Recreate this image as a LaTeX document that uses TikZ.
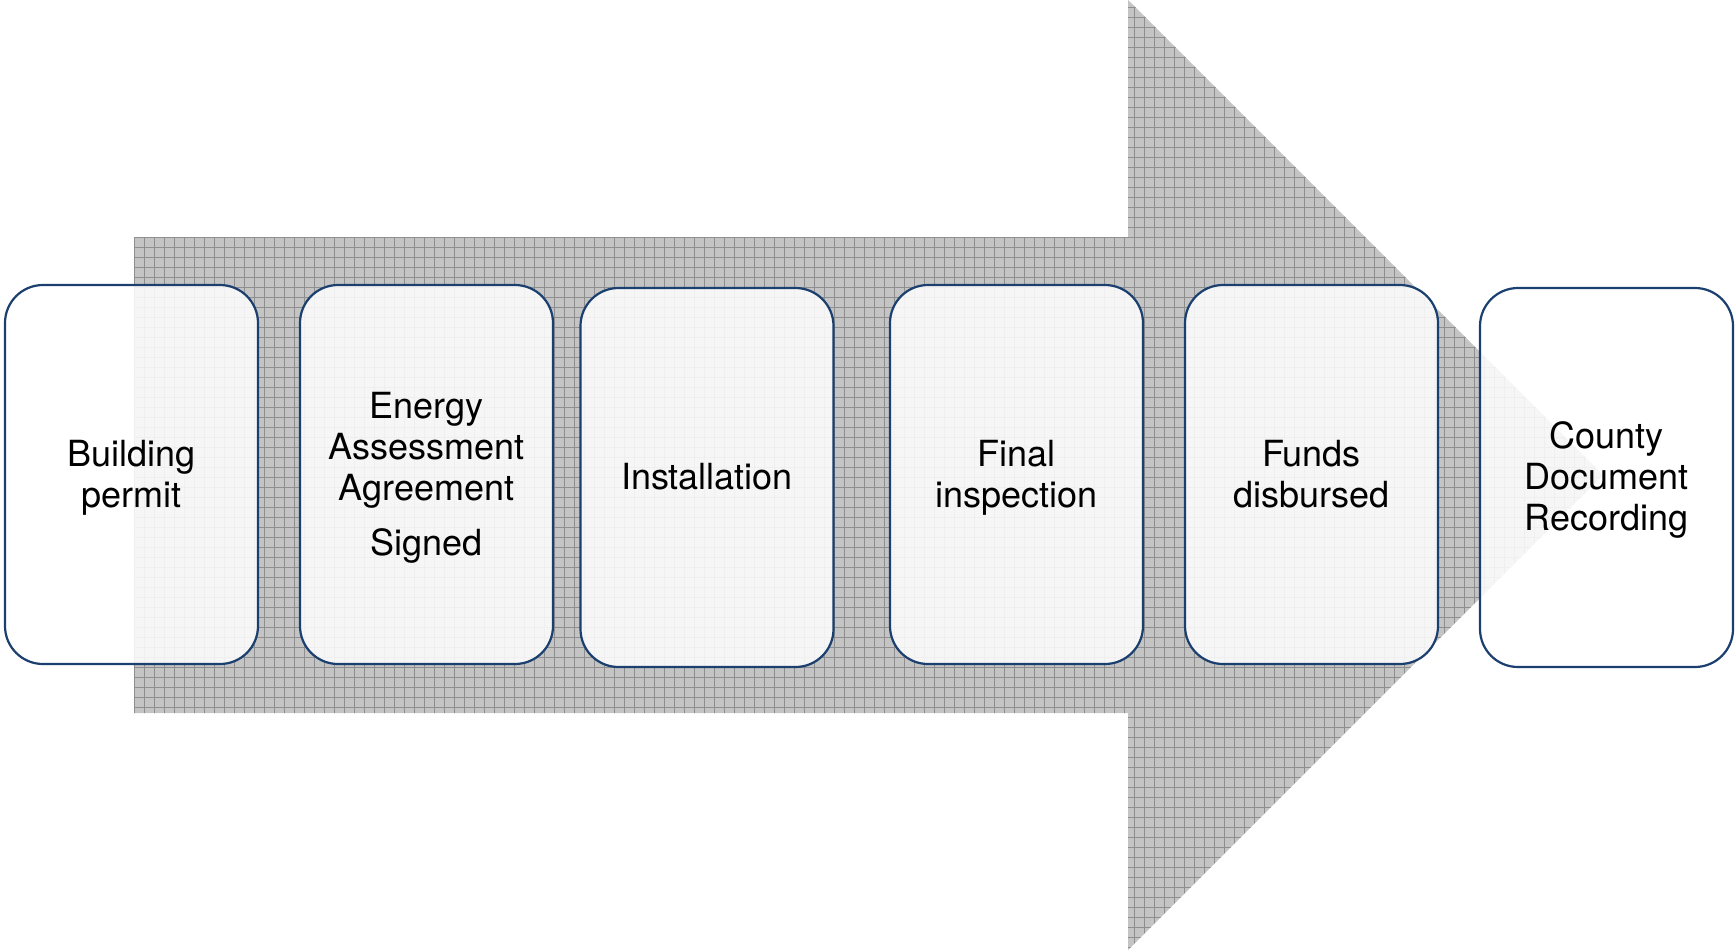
\documentclass[tikz,border=0pt]{standalone}
\usepackage{fontspec}
\setmainfont{TeX Gyre Heros}
\definecolor{arrowgray}{HTML}{C4C4C4}
\definecolor{gridgray}{HTML}{8E8E8E}
\definecolor{boxblue}{HTML}{1B3F6E}
\newcommand{\stagetext}[1]{\raisebox{-4pt}[\height][\depth]{\begin{tabular}{@{}c@{}}#1\end{tabular}}}
\begin{document}
\begin{tikzpicture}[x=1pt,y=-1pt,
  stage/.style={draw=boxblue,line width=2.2pt,rounded corners=38pt,fill=white,fill opacity=0.86,text opacity=1,
    minimum width=253pt,minimum height=379pt,align=center,inner sep=0pt,
    font=\fontsize{36}{41}\selectfont}]
\useasboundingbox (0,0) rectangle (1735,951);
\fill[arrowgray] (134,237) -- (1128,237) -- (1128,0) -- (1603,475) -- (1128,950) -- (1128,713) -- (134,713) -- cycle;
\begin{scope}
\clip (134,237) -- (1128,237) -- (1128,0) -- (1603,475) -- (1128,950) -- (1128,713) -- (134,713) -- cycle;
\foreach \x in {134,144,...,1604} {\draw[gridgray,line width=1pt] (\x,0) -- (\x,951);}
\foreach \y in {7,17,...,951} {\draw[gridgray,line width=1pt] (134,\y) -- (1605,\y);}
\end{scope}
\node[stage] (b1) at (131.5,474.5) {\stagetext{Building\\permit}};
\node[stage] (b2) at (426.5,474.5) {\stagetext{Energy\\Assessment\\Agreement\\[14pt]Signed}};
\node[stage] (b3) at (707,477.5) {\stagetext{Installation}};
\node[stage] (b4) at (1016.5,474.5) {\stagetext{Final\\inspection}};
\node[stage] (b5) at (1311.5,474.5) {\stagetext{Funds\\disbursed}};
\node[stage] (b6) at (1606.5,477.5) {\stagetext{County\\Document\\Recording}};
\end{tikzpicture}
\end{document}
